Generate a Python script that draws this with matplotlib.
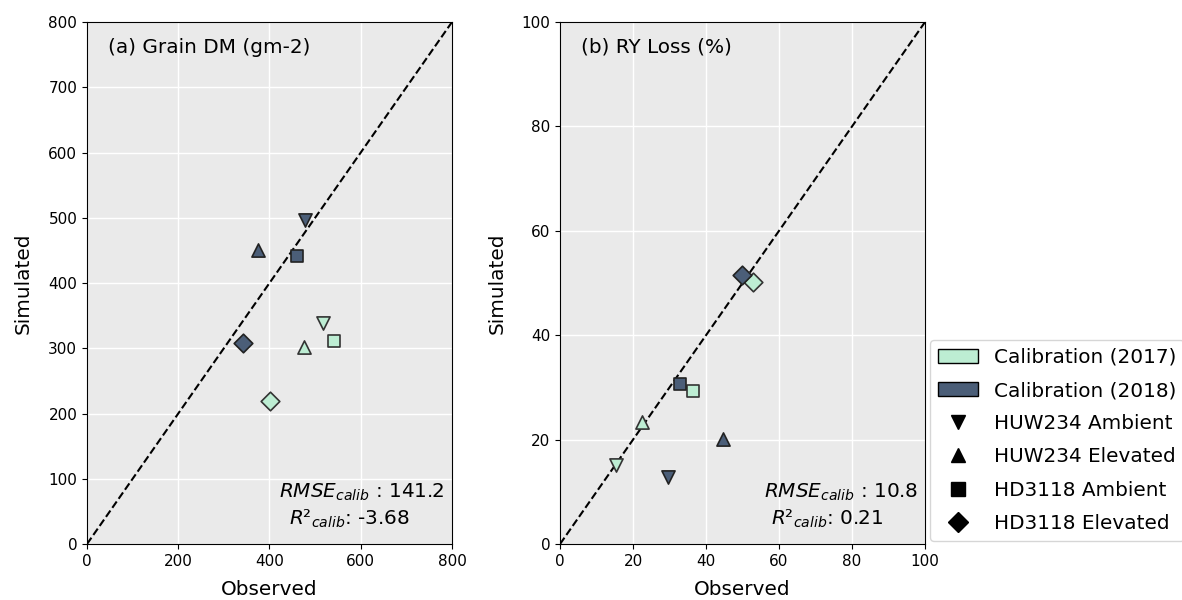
import matplotlib
matplotlib.use('Agg')
import matplotlib.pyplot as plt
from matplotlib.patches import Patch
from matplotlib.lines import Line2D

# order: HUW234 Ambient, HUW234 Elevated, HD3118 Ambient, HD3118 Elevated
markers = ['v', '^', 's', 'D']
labels = ['HUW234 Ambient', 'HUW234 Elevated', 'HD3118 Ambient', 'HD3118 Elevated']

grain_obs_2017 = [518, 476, 541, 401]
grain_sim_2017 = [339, 302, 311, 219]
grain_obs_2018 = [478, 374, 461, 343]
grain_sim_2018 = [497, 451, 441, 308]

ry_obs_2017 = [15.3, 22.4, 36.3, 52.8]
ry_sim_2017 = [15.1, 23.4, 29.3, 50.1]
ry_obs_2018 = [29.5, 44.7, 32.9, 49.9]
ry_sim_2018 = [12.9, 20.2, 30.6, 51.5]

c2017 = '#bdedd3'
c2018 = '#4b5e78'
fs = 14.4

fig = plt.figure(figsize=(11.82, 6), dpi=100)
ax1 = fig.add_axes([0.0736, 0.0933, 0.3088, 0.87])
ax2 = fig.add_axes([0.4738, 0.0933, 0.3088, 0.87])

def panel(ax, lim, xticks, yticks, o17, s17, o18, s18, title, rmse, r2):
    ax.set_facecolor('#eaeaea')
    ax.grid(color='white', linewidth=1)
    ax.set_axisbelow(True)
    ax.plot([0, lim], [0, lim], 'k--', linewidth=1.5, zorder=2)
    for i, m in enumerate(markers):
        ms = 90 if m != 's' else 70
        ax.scatter(o17[i], s17[i], marker=m, s=ms, color=c2017, edgecolor='#333333', linewidth=1.2, zorder=3)
        ax.scatter(o18[i], s18[i], marker=m, s=ms, color=c2018, edgecolor='#222222', linewidth=1.2, zorder=3)
    ax.set_xlim(0, lim)
    ax.set_ylim(0, lim)
    ax.set_xticks(xticks)
    ax.set_yticks(yticks)
    ax.tick_params(labelsize=11)
    ax.set_xlabel('Observed', fontsize=fs, labelpad=8)
    ax.set_ylabel('Simulated', fontsize=fs, labelpad=11)
    ax.text(0.0575, 0.952, title, transform=ax.transAxes, fontsize=fs, va='center')
    ax.text(0.98, 0.0996, '$RMSE_{calib}$ : ' + rmse, transform=ax.transAxes, fontsize=fs,
            va='center', ha='right')
    ax.text(0.885, 0.048, '$R²_{calib}$: ' + r2, transform=ax.transAxes, fontsize=fs,
            va='center', ha='right')
    for s in ax.spines.values():
        s.set_color('black')

panel(ax1, 800, range(0, 801, 200), range(0, 801, 100),
      grain_obs_2017, grain_sim_2017, grain_obs_2018, grain_sim_2018,
      '(a) Grain DM (gm-2)', '141.2', '-3.68')
panel(ax2, 100, range(0, 101, 20), range(0, 101, 20),
      ry_obs_2017, ry_sim_2017, ry_obs_2018, ry_sim_2018,
      '(b) RY Loss (%)', '10.8', '0.21')

handles = [Patch(facecolor=c2017, edgecolor='black', label='Calibration (2017)'),
           Patch(facecolor=c2018, edgecolor='black', label='Calibration (2018)')]
for m, l in zip(markers, labels):
    handles.append(Line2D([], [], marker=m, color='black', linestyle='none', markersize=10, label=l))
ax2.legend(handles=handles, loc='lower left', bbox_to_anchor=(1.0137, 0.006), fontsize=fs,
           frameon=True, facecolor='white', handlelength=2, borderaxespad=0, labelspacing=0.71)

fig.savefig('out.png', dpi=100)
